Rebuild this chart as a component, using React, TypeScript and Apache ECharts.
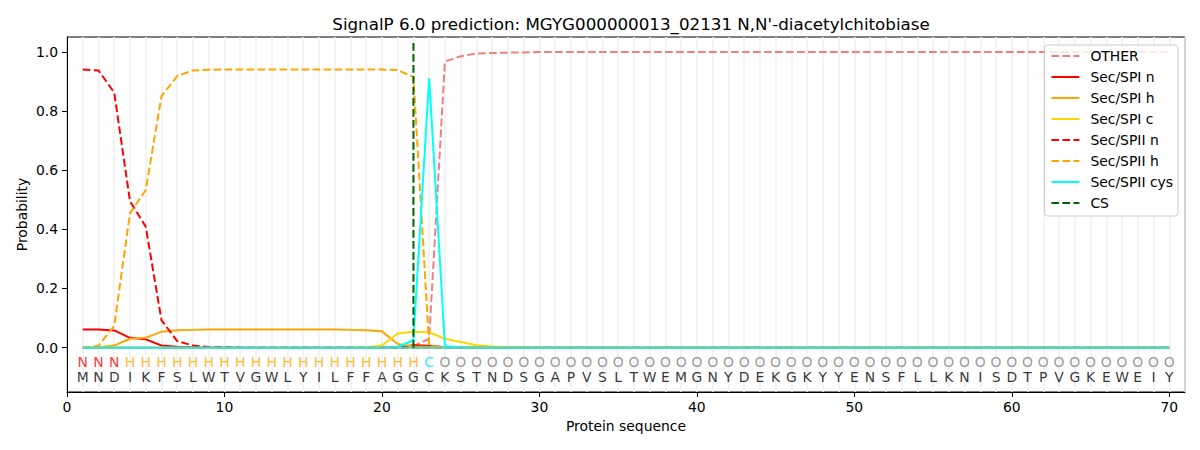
import React, { useEffect, useRef } from "react";
import * as echarts from "echarts";

const positions: number[] = Array.from({ length: 70 }, (_, i) => i + 1);
const sequence = "MNDIKFSLWTVGWLYILFFAGGCKSTNDSGAPVSLTWEMGNYDEKGKYYENSFLLKNISDTPVGKEWEIY".split("");
const annotation = "NNNHHHHHHHHHHHHHHHHHHHCOOOOOOOOOOOOOOOOOOOOOOOOOOOOOOOOOOOOOOOOOOOOOOO".split("");
const annotationColors: Record<string, string> = { N: "#ff0000", H: "#ffa500", C: "#00e5ee", O: "#808080" };

const otherP = [0, 0, 0, 0, 0, 0, 0, 0, 0, 0, 0, 0, 0, 0, 0, 0, 0, 0, 0, 0, 0, 0.005, 0.03, 0.967, 0.985, 0.994, 0.996, 0.997, 0.998, 0.999, 0.999, 0.999, 0.999, 0.999, 0.999, 0.999, 0.999, 0.999, 0.999, 0.999, 0.999, 0.999, 0.999, 0.999, 0.999, 0.999, 0.999, 0.999, 0.999, 0.999, 0.999, 0.999, 0.999, 0.999, 0.999, 0.999, 0.999, 0.999, 0.999, 0.999, 0.999, 0.999, 0.999, 0.999, 0.999, 0.999, 0.999, 0.999, 0.999, 0.999];
const spiN = [0.061, 0.061, 0.058, 0.033, 0.028, 0.007, 0.003, 0.001, 0, 0, 0, 0, 0, 0, 0, 0, 0, 0, 0, 0, 0.002, 0.008, 0.006, 0.001, 0, 0, 0, 0, 0, 0, 0, 0, 0, 0, 0, 0, 0, 0, 0, 0, 0, 0, 0, 0, 0, 0, 0, 0, 0, 0, 0, 0, 0, 0, 0, 0, 0, 0, 0, 0, 0, 0, 0, 0, 0, 0, 0, 0, 0, 0];
const spiH = [0, 0.001, 0.007, 0.03, 0.033, 0.054, 0.059, 0.06, 0.061, 0.061, 0.061, 0.061, 0.061, 0.061, 0.061, 0.061, 0.061, 0.06, 0.059, 0.055, 0.012, 0.004, 0.003, 0.001, 0, 0, 0, 0, 0, 0, 0, 0, 0, 0, 0, 0, 0, 0, 0, 0, 0, 0, 0, 0, 0, 0, 0, 0, 0, 0, 0, 0, 0, 0, 0, 0, 0, 0, 0, 0, 0, 0, 0, 0, 0, 0, 0, 0, 0, 0];
const spiC = [0, 0, 0, 0, 0, 0, 0, 0, 0, 0, 0, 0, 0, 0, 0, 0, 0, 0, 0.001, 0.007, 0.048, 0.054, 0.052, 0.03, 0.019, 0.008, 0.004, 0.001, 0, 0, 0, 0, 0, 0, 0, 0, 0, 0, 0, 0, 0, 0, 0, 0, 0, 0, 0, 0, 0, 0, 0, 0, 0, 0, 0, 0, 0, 0, 0, 0, 0, 0, 0, 0, 0, 0, 0, 0, 0, 0];
const spiiN = [0.94, 0.937, 0.862, 0.495, 0.409, 0.093, 0.022, 0.007, 0.002, 0.001, 0, 0, 0, 0, 0, 0, 0, 0, 0, 0, 0, 0, 0, 0, 0, 0, 0, 0, 0, 0, 0, 0, 0, 0, 0, 0, 0, 0, 0, 0, 0, 0, 0, 0, 0, 0, 0, 0, 0, 0, 0, 0, 0, 0, 0, 0, 0, 0, 0, 0, 0, 0, 0, 0, 0, 0, 0, 0, 0, 0];
const spiiH = [0, 0.006, 0.074, 0.454, 0.533, 0.85, 0.918, 0.937, 0.939, 0.94, 0.94, 0.94, 0.94, 0.94, 0.94, 0.94, 0.94, 0.94, 0.94, 0.94, 0.938, 0.915, 0.005, 0.001, 0, 0, 0, 0, 0, 0, 0, 0, 0, 0, 0, 0, 0, 0, 0, 0, 0, 0, 0, 0, 0, 0, 0, 0, 0, 0, 0, 0, 0, 0, 0, 0, 0, 0, 0, 0, 0, 0, 0, 0, 0, 0, 0, 0, 0, 0];
const spiiCys = [0, 0, 0, 0, 0, 0, 0, 0, 0, 0, 0, 0, 0, 0, 0, 0, 0, 0, 0, 0, 0.002, 0.025, 0.911, 0.005, 0.001, 0, 0, 0, 0, 0, 0, 0, 0, 0, 0, 0, 0, 0, 0, 0, 0, 0, 0, 0, 0, 0, 0, 0, 0, 0, 0, 0, 0, 0, 0, 0, 0, 0, 0, 0, 0, 0, 0, 0, 0, 0, 0, 0, 0, 0];
const otherClasses = Array.from({ length: 70 }, () => 0);
const csPosition = 22;
const csSpan = [0, 1.04];
const yTicks = [0, 0.2, 0.4, 0.6, 0.8, 1.0];
const xTicks = [0, 10, 20, 30, 40, 50, 60, 70];

const FONT = "DejaVu Sans";
const DASH = [7.7, 3.3];
const LW = 2.0;

export default function App() {
  const ref = useRef<HTMLDivElement>(null);
  useEffect(() => {
    if (!ref.current) return;
    const chart = echarts.init(ref.current, null, { renderer: "svg" });
    const line = (name: string, data: number[], color: string, dashed: boolean) => ({
      name,
      type: "line",
      data: data.map((v, i) => [positions[i], v]),
      symbol: "none",
      showSymbol: false,
      lineStyle: { color, width: LW, type: dashed ? DASH : "solid" },
      itemStyle: { color },
      z: 3,
    });
    const letterSeries = (rowY: number, letters: string[], colorOf: (l: string) => string) => ({
      type: "scatter",
      symbolSize: 0,
      silent: true,
      z: 4,
      data: letters.map((l, i) => ({
        name: l,
        value: [positions[i], rowY],
        label: { color: colorOf(l) },
      })),
      label: {
        show: true,
        position: "inside",
        formatter: "{b}",
        fontFamily: FONT,
        fontSize: 13.9,
        align: "center",
        verticalAlign: "middle",
      },
    });
    chart.setOption({
      animation: false,
      backgroundColor: "#ffffff",
      textStyle: { fontFamily: FONT },
      title: {
        text: "SignalP 6.0 prediction: MGYG000000013_02131 N,N'-diacetylchitobiase",
        left: 626,
        top: 10,
        textAlign: "center",
        textStyle: { fontFamily: FONT, fontSize: 16.7, fontWeight: "normal", color: "#000" },
      },
      legend: {
        orient: "vertical",
        right: 22,
        top: 45,
        data: ["OTHER", "Sec/SPI n", "Sec/SPI h", "Sec/SPI c", "Sec/SPII n", "Sec/SPII h", "Sec/SPII cys", "CS"],
        itemWidth: 28,
        itemHeight: 14,
        itemGap: 7,
        padding: [4, 5, 6, 6],
        borderColor: "#cccccc",
        borderWidth: 1,
        borderRadius: 3,
        backgroundColor: "rgba(255,255,255,0.8)",
        itemStyle: { opacity: 0 },
        textStyle: { fontFamily: FONT, fontSize: 13.9, color: "#000", padding: [0, 0, 0, 6] },
      },
      grid: { left: 67, right: 15, top: 37, bottom: 58, show: true, borderColor: "#000", borderWidth: 1, backgroundColor: "transparent" },
      xAxis: [
        {
          type: "value",
          min: 0,
          max: 71,
          interval: 10,
          name: "Protein sequence",
          nameLocation: "middle",
          nameGap: 27,
          nameTextStyle: { fontFamily: FONT, fontSize: 13.9, color: "#000" },
          axisLine: { onZero: false, lineStyle: { color: "#000", width: 1 } },
          axisTick: { show: true, length: 5, inside: false, customValues: xTicks, lineStyle: { color: "#000" } },
          axisLabel: { customValues: xTicks, margin: 8, fontFamily: FONT, fontSize: 13.9, color: "#000" },
          splitLine: { show: false },
        },
        {
          type: "value",
          min: 0,
          max: 71,
          interval: 1,
          position: "top",
          axisLine: { show: false },
          axisTick: { show: false },
          axisLabel: { show: false },
          splitLine: { show: true, lineStyle: { color: "#efefef", width: 1.5 } },
        },
      ],
      yAxis: {
        type: "value",
        min: -0.15,
        max: 1.05,
        name: "Probability",
        nameLocation: "middle",
        nameGap: 38,
        nameMoveOverlap: false,
        nameTextStyle: { fontFamily: FONT, fontSize: 13.9, color: "#000" },
        axisLine: { show: true, onZero: false, lineStyle: { color: "#000", width: 1 } },
        axisTick: { show: true, length: 5, inside: false, customValues: yTicks, lineStyle: { color: "#000" } },
        axisLabel: {
          customValues: yTicks,
          margin: 9,
          fontFamily: FONT,
          fontSize: 13.9,
          color: "#000",
          formatter: (v: number) => v.toFixed(1),
        },
        splitLine: { show: false },
      },
      series: [
        line("OTHER", otherP, "#f08080", true),
        line("Sec/SPI n", spiN, "#ff0000", false),
        line("Sec/SPI h", spiH, "#ffa500", false),
        line("Sec/SPI c", spiC, "#ffd700", false),
        line("Sec/SPII n", spiiN, "#ff0000", true),
        line("Sec/SPII h", spiiH, "#ffa500", true),
        line("Sec/SPII cys", spiiCys, "#00ffff", false),
        line("zero", otherClasses, "#40e0c8", false),
        {
          name: "CS",
          type: "line",
          data: csSpan.map((v) => [csPosition, v]),
          symbol: "none",
          lineStyle: { color: "#006400", width: LW, type: DASH },
          itemStyle: { color: "#006400" },
          z: 5,
        },
        letterSeries(-0.048, annotation, (l) => annotationColors[l]),
        letterSeries(-0.098, sequence, () => "#000000"),
      ],
    });
    return () => chart.dispose();
  }, []);
  return <div ref={ref} style={{ width: 1200, height: 450, position: "absolute", left: 0, top: 0 }} />;
}
